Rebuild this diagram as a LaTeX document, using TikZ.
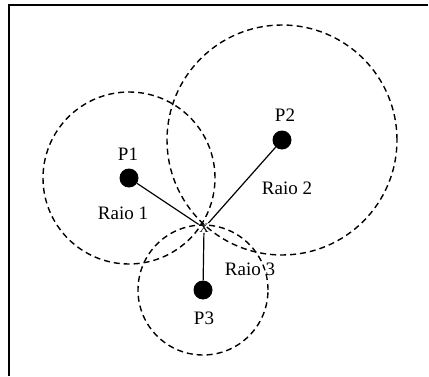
\documentclass[tikz,border=0pt]{standalone}
\usepackage{fontspec}
\setmainfont{Liberation Serif}
\usepackage{tikz}
\usetikzlibrary{calc}

\begin{document}
\begin{tikzpicture}[x=1pt, y=1pt,
    dot/.style={circle, fill=black, inner sep=0pt, minimum size=19pt},
    reach/.style={dashed, dash pattern=on 6pt off 4pt, line width=1.4pt},
    lbl/.style={font=\fontsize{19}{22}\selectfont}]
  \useasboundingbox (0,0) rectangle (429,376);
  % Frame (top and left only)
  \draw[line width=1.6pt] (428,371) -- (9,371) -- (9,0);
  % Points
  \node[dot] (p1) at (129,198) {};
  \node[dot] (p2) at (282,236) {};
  \node[dot] (p3) at (203,86) {};
  \node[inner sep=0.5pt, font=\fontsize{13}{13}\selectfont] (xpt) at (204,148) {X};
  % Ranges
  \draw[reach] (p1) circle (86);
  \draw[reach] (p2) circle (115);
  \draw[reach] (p3) circle (65);
  % Radii
  \foreach \p in {p1,p2,p3}
    \draw[line width=1.2pt] (\p) -- (xpt);
  % Labels
  \node[lbl] (l1) at (128,222) {P1};
  \node[lbl] (l2) at (285,261) {P2};
  \node[lbl] (l3) at (204,58) {P3};
  \node[lbl] (r1) at (123,163) {Raio 1};
  \node[lbl] (r2) at (287,188) {Raio 2};
  \node[lbl] (r3) at (250,107) {Raio 3};
\end{tikzpicture}
\end{document}
